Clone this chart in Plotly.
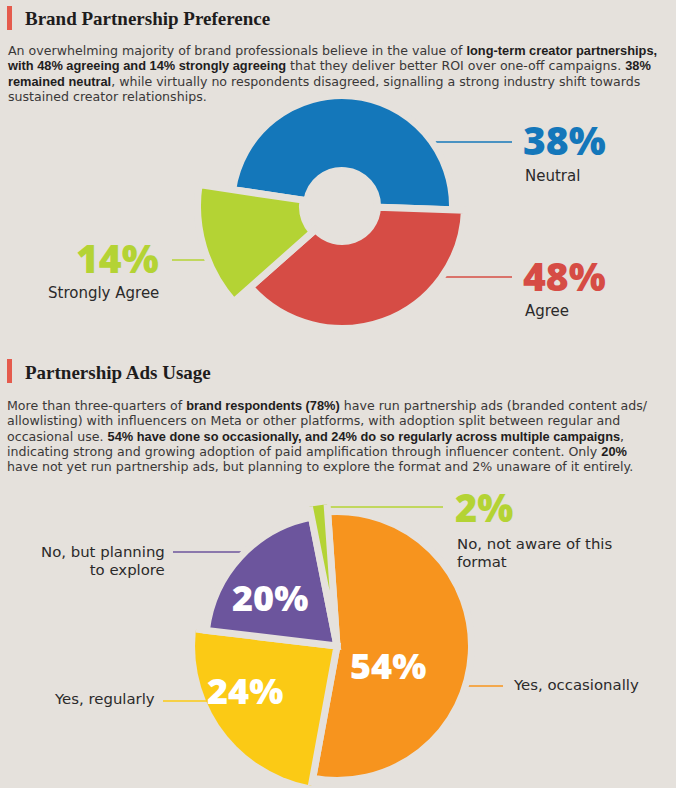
import plotly.graph_objects as go

W, H = 676, 788
BG = "#E5E1DC"
TXT = "#2B2A2A"
BODY = "Open Sans"
LABEL = "DejaVu Sans"
SERIF = "Liberation Serif"

# ---------------- data ----------------
pref_labels = ["Neutral", "Agree", "Strongly Agree"]
pref_values = [38, 48, 14]
pref_colors = ["#1477BA", "#D64C45", "#B4D334"]

usage_labels = ["Yes, occasionally", "Yes, regularly", "No, but planning<br>to explore", "No, not aware of this<br>format"]
usage_values = [54, 24, 20, 2]
usage_colors = ["#F7941E", "#FBCA15", "#6C559D", "#B4D334"]

# ---------------- design geometry (not data) ----------------
# top donut: designer-drawn spans (deg, counter-clockwise from east) and radii in px
pref_start = [-2, 221.5, 171.5]
pref_end = [171.5, 358, 221.5]
pref_outer = [110.5, 122.5, 144.5]
pref_inner = [35.5, 35.5, 39.5]
GAP = 7

# bottom pie radii in px
usage_outer = [134.5, 146.5, 131.5, 150.5]


def px(x, y):
    return x / W, 1 - y / H


fig = go.Figure()

# top donut
fig.add_trace(go.Barpolar(
    theta=[(s + e) / 2 for s, e in zip(pref_start, pref_end)],
    width=[e - s for s, e in zip(pref_start, pref_end)],
    base=pref_inner,
    r=[o - i for o, i in zip(pref_outer, pref_inner)],
    marker=dict(color=pref_colors, line=dict(color=BG, width=GAP)),
    hoverinfo="skip", subplot="polar",
))

# bottom pie (angles proportional to values)
cum = 0
thetas, widths = [], []
for v in usage_values:
    thetas.append((cum + v / 2) * 3.6)
    widths.append(v * 3.6)
    cum += v
fig.add_trace(go.Barpolar(
    theta=thetas, width=widths, base=[0] * 4, r=usage_outer,
    marker=dict(color=usage_colors, line=dict(color=BG, width=GAP)),
    hoverinfo="skip", subplot="polar2",
))
for sp in ("polar", "polar2"):
    fig.add_trace(go.Scatterpolar(r=[0], theta=[0], mode="markers", marker=dict(opacity=0),
                                  cliponaxis=False, hoverinfo="skip", subplot=sp))

# polar layouts
c1x, c1y, R1 = 342, 206, 150
c2x, c2y, R2 = 337, 646, 142
fig.update_layout(
    polar=dict(
        domain=dict(x=[(c1x - R1) / W, (c1x + R1) / W], y=[1 - (c1y + R1) / H, 1 - (c1y - R1) / H]),
        radialaxis=dict(range=[0, R1], visible=False),
        angularaxis=dict(visible=False, direction="counterclockwise", rotation=0),
        bgcolor="rgba(0,0,0,0)",
    ),
    polar2=dict(
        domain=dict(x=[(c2x - R2) / W, (c2x + R2) / W], y=[max(0, 1 - (c2y + R2) / H), 1 - (c2y - R2) / H]),
        radialaxis=dict(range=[0, R2], visible=False),
        angularaxis=dict(visible=False, direction="clockwise", rotation=94),
        bgcolor="rgba(0,0,0,0)",
    ),
)

anns = []


def ann(text, x, y, size, color=TXT, xanchor="left", family=LABEL, weight="normal", yanchor="middle"):
    ax, ay = px(x, y)
    anns.append(dict(text=text, x=ax, y=ay, xref="paper", yref="paper", xanchor=xanchor, yanchor=yanchor,
                     showarrow=False, align=xanchor if xanchor != "center" else "center", borderpad=0,
                     font=dict(family=family, size=size, color=color, weight=weight)))


def lines(parts, glyph_px, spacing_px):
    """join lines; base font sets line spacing (1.3em), spans set glyph size"""
    return "<br>".join(f'<span style="font-size:{glyph_px}px">{p}</span>' for p in parts), spacing_px / 1.3


def big(text, x, y, size, color, xanchor="left"):
    ann(text, x, y, size, color, xanchor=xanchor, family=BODY, weight=800)


# headings
ann("Brand Partnership Preference", 24, 18, 19, "#1E1C1C", family=SERIF, weight="bold")
ann("Partnership Ads Usage", 24, 372, 19, "#1E1C1C", family=SERIF, weight="bold")

B0 = '<span style="font-family:Liberation Sans;font-size:12.8px;font-weight:bold;color:#1F1D1D">'
B1 = "</span>"
para1 = [
    f"An overwhelming majority of brand professionals believe in the value of {B0}long-term creator partnerships,{B1}",
    f"{B0}with 48% agreeing and 14% strongly agreeing{B1} that they deliver better ROI over one-off campaigns. {B0}38%{B1}",
    f"{B0}remained neutral{B1}, while virtually no respondents disagreed, signalling a strong industry shift towards",
    "sustained creator relationships.",
]
para2 = [
    f"More than three-quarters of {B0}brand respondents (78%){B1} have run partnership ads (branded content ads/",
    "allowlisting) with influencers on Meta or other platforms, with adoption split between regular and",
    f"occasional use. {B0}54% have done so occasionally, and 24% do so regularly across multiple campaigns{B1},",
    f"indicating strong and growing adoption of paid amplification through influencer content. Only {B0}20%{B1}",
    "have not yet run partnership ads, but planning to explore the format and 2% unaware of it entirely.",
]
t, base = lines(para1, 12.6, 15.3)
ann(t, 6, 42, base, "#3A3838", family=LABEL, yanchor="top")
t, base = lines(para2, 12.6, 15.3)
ann(t, 6, 397, base, "#3A3838", family=LABEL, yanchor="top")

# top labels
big(f"{pref_values[0]}%", 522, 140, 39, pref_colors[0])
ann(pref_labels[0], 524, 176, 15)
big(f"{pref_values[1]}%", 522, 275, 39, pref_colors[1])
ann(pref_labels[1], 524, 310.5, 15)
big(f"{pref_values[2]}%", 160, 257, 39, pref_colors[2], xanchor="right")
ann(pref_labels[2], 160, 293, 15, xanchor="right")

# bottom labels
big(f"{usage_values[3]}%", 454, 507, 38, usage_colors[3])
t, base = lines(usage_labels[3].split("<br>"), 14.9, 17.6)
ann(t, 456, 552.5, base)
t, base = lines(usage_labels[2].split("<br>"), 14.9, 17.6)
ann(t, 166, 561, base, xanchor="right")
ann(usage_labels[1], 156, 699, 14.9, xanchor="right")
ann(usage_labels[0], 512, 685, 14.9)
big(f"{usage_values[0]}%", 388, 665, 36, "white", xanchor="center")
big(f"{usage_values[1]}%", 245, 690, 36, "white", xanchor="center")
big(f"{usage_values[2]}%", 270, 597, 36, "white", xanchor="center")

shapes = []


def hline(x0, x1, y, color):
    a0, b0 = px(x0, y)
    a1, b1 = px(x1, y)
    shapes.append(dict(type="line", xref="paper", yref="paper", x0=a0, x1=a1, y0=b0, y1=b1,
                       line=dict(color=color, width=1.6), layer="below"))


def rect(x0, y0, x1, y1, color):
    a0, b0 = px(x0, y0)
    a1, b1 = px(x1, y1)
    shapes.append(dict(type="rect", xref="paper", yref="paper", x0=a0, x1=a1, y0=b1, y1=b0,
                       fillcolor=color, line=dict(width=0), layer="below"))


rect(7, 6, 12, 30, "#E55B4D")
rect(7, 359, 12, 383, "#E55B4D")
hline(420, 512, 142, pref_colors[0])
hline(430, 512, 277, pref_colors[1])
hline(172, 225, 260, pref_colors[2])
hline(325, 443, 507, usage_colors[3])
hline(173, 260, 552, usage_colors[2])
hline(163, 215, 701, usage_colors[1])
hline(450, 503, 686, usage_colors[0])

fig.update_layout(
    width=W, height=H, margin=dict(l=0, r=0, t=0, b=0),
    paper_bgcolor=BG, plot_bgcolor=BG, showlegend=False,
    annotations=anns, shapes=shapes,
)
fig.write_html("out.html")
